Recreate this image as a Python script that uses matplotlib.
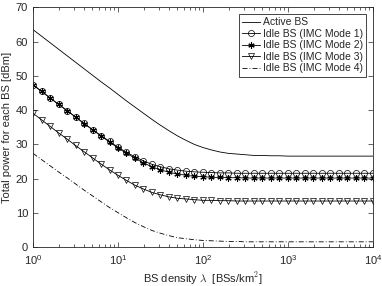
import matplotlib
matplotlib.use('Agg')
import matplotlib.pyplot as plt
import numpy as np
from matplotlib.ticker import LogLocator, MultipleLocator

# BS density, 10 samples per decade from 1 to 1e4
density_exp = [k / 10 for k in range(41)]

active_bs = [63.5, 61.6, 59.7, 57.8, 55.9, 54.0, 52.1, 50.2, 48.3, 46.5,
             44.6, 42.7, 40.9, 39.1, 37.3, 35.6, 34.0, 32.5, 31.2, 30.0,
             29.1, 28.4, 27.8, 27.4, 27.2, 27.0, 26.8, 26.8, 26.7, 26.7,
             26.6, 26.6, 26.6, 26.6, 26.6, 26.6, 26.6, 26.6, 26.6, 26.6, 26.6]
idle_mode1 = [47.4, 45.5, 43.6, 41.7, 39.9, 38.0, 36.2, 34.3, 32.6, 30.9,
              29.2, 27.7, 26.4, 25.2, 24.2, 23.5, 22.9, 22.5, 22.2, 22.0,
              21.9, 21.8, 21.7, 21.7, 21.6, 21.6, 21.6, 21.6, 21.6, 21.6,
              21.6, 21.6, 21.6, 21.6, 21.6, 21.6, 21.6, 21.6, 21.6, 21.6, 21.6]
idle_mode2 = [47.4, 45.5, 43.6, 41.7, 39.9, 38.0, 36.1, 34.3, 32.5, 30.7,
              29.0, 27.4, 26.0, 24.6, 23.5, 22.6, 21.9, 21.4, 21.0, 20.7,
              20.6, 20.4, 20.4, 20.3, 20.3, 20.2, 20.2, 20.2, 20.2, 20.2,
              20.2, 20.2, 20.2, 20.2, 20.2, 20.2, 20.2, 20.2, 20.2, 20.2, 20.2]
idle_mode3 = [39.1, 37.2, 35.3, 33.4, 31.6, 29.7, 27.9, 26.1, 24.3, 22.6,
              21.0, 19.5, 18.1, 17.0, 16.0, 15.3, 14.7, 14.3, 14.1, 13.9,
              13.7, 13.7, 13.6, 13.6, 13.5, 13.5, 13.5, 13.5, 13.5, 13.5,
              13.5, 13.5, 13.5, 13.5, 13.5, 13.5, 13.5, 13.5, 13.5, 13.5, 13.5]
idle_mode4 = [27.4, 25.6, 23.8, 22.0, 20.3, 18.5, 16.7, 15.0, 13.3, 11.6,
              10.1, 8.6, 7.2, 6.0, 4.9, 4.1, 3.4, 2.8, 2.5, 2.2,
              2.0, 1.9, 1.8, 1.7, 1.7, 1.6, 1.6, 1.6, 1.6, 1.6,
              1.6, 1.6, 1.6, 1.6, 1.6, 1.6, 1.6, 1.6, 1.6, 1.6, 1.6]

labels = ['Active BS', 'Idle BS (IMC Mode 1)', 'Idle BS (IMC Mode 2)',
          'Idle BS (IMC Mode 3)', 'Idle BS (IMC Mode 4)']

plt.rcParams['font.family'] = ['Liberation Sans', 'DejaVu Sans']
plt.rcParams['mathtext.fontset'] = 'cm'
plt.rcParams['font.size'] = 8
AX_COLOR = '#262626'

fig = plt.figure(figsize=(3.82, 2.86), dpi=100)
ax = fig.add_axes([0.0864, 0.1353, 0.89, 0.839])

x = np.power(10.0, density_exp)
ax.plot(x, active_bs, color='black', lw=0.6, label=labels[0])
ax.plot(x, idle_mode1, color='black', lw=0.6, marker='o', ms=4.4,
        mfc='none', mew=0.5, label=labels[1])
ax.plot(x, idle_mode2, color='black', lw=0.6, marker=(6, 2, 0), ms=4.5,
        mew=0.8, label=labels[2])
ax.plot(x, idle_mode3, color='black', lw=0.6, marker='v', ms=4.4,
        mfc='none', mew=0.5, label=labels[3])
ax.plot(x, idle_mode4, color='black', lw=0.6, dashes=(6, 2.5, 1, 2.5),
        label=labels[4])

ax.set_xscale('log')
ax.set_xlim(1, 1e4)
ax.set_ylim(0, 70)
ax.yaxis.set_major_locator(MultipleLocator(10))
ax.xaxis.set_major_locator(LogLocator(base=10, numticks=10))
ax.xaxis.set_minor_locator(LogLocator(base=10, subs=np.arange(2, 10), numticks=20))

for s in ax.spines.values():
    s.set_color(AX_COLOR)
    s.set_linewidth(0.6)
ax.tick_params(which='both', direction='in', top=True, right=True,
               colors=AX_COLOR, width=0.5, labelsize=8)
ax.tick_params(which='major', length=3.5)
ax.tick_params(which='minor', length=2)
ax.tick_params(axis='x', pad=4)

ax.set_xlabel('BS density $\\lambda$  [BSs/km$^{\\mathsf{2}}$]', color=AX_COLOR, labelpad=3)
ax.set_ylabel('Total power for each BS [dBm]', color=AX_COLOR, labelpad=3)

leg = ax.legend(loc='upper right', fontsize=7.5, frameon=True, fancybox=False,
                edgecolor=AX_COLOR, framealpha=1, handlelength=1.7,
                borderpad=0.3, labelspacing=0.15, handletextpad=0.3,
                markerscale=1.0, numpoints=1, borderaxespad=0.65)
leg.get_frame().set_linewidth(0.6)
for t in leg.get_texts():
    t.set_color(AX_COLOR)

fig.savefig('out.png', dpi=100)
